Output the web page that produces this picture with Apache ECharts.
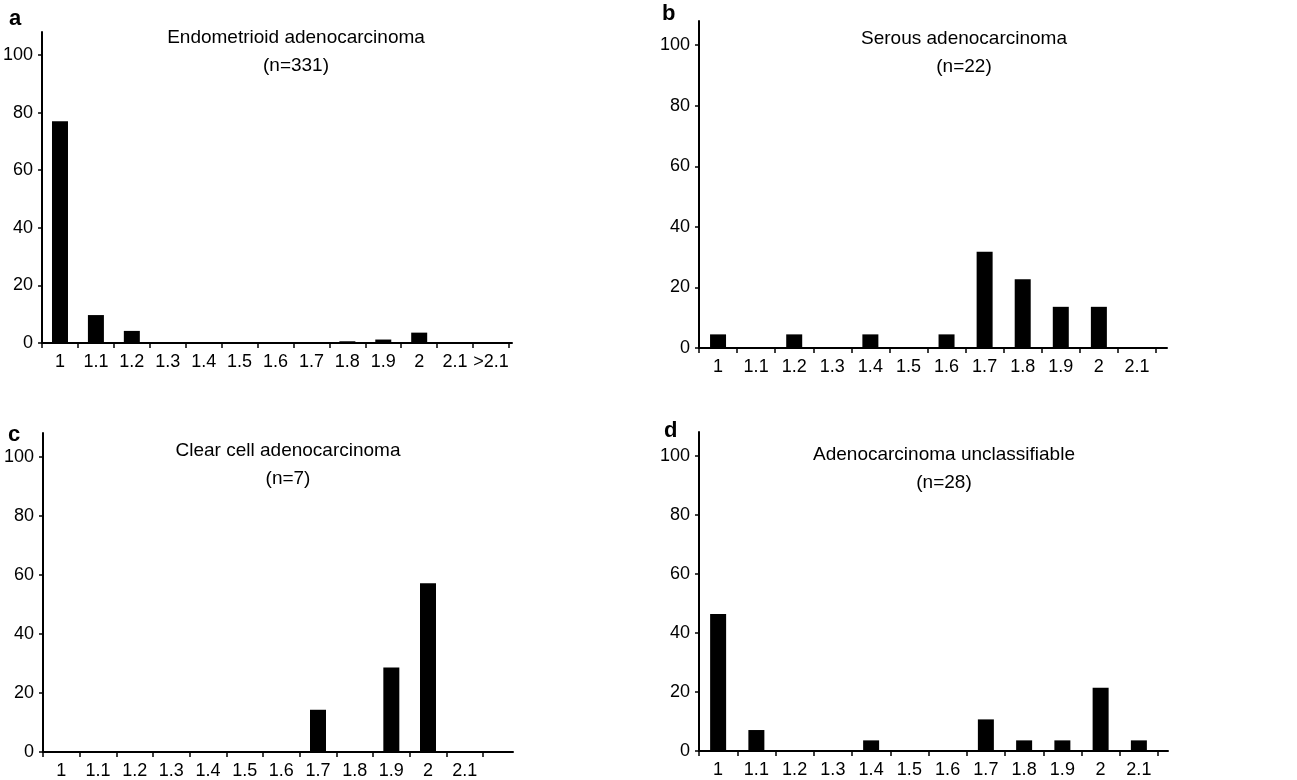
<!DOCTYPE html>
<html>
<head>
<meta charset="utf-8">
<script src="https://cdn.jsdelivr.net/npm/echarts@6/dist/echarts.min.js"></script>
<style>
html, body { margin: 0; padding: 0; background: #fff; }
#main { width: 1297px; height: 780px; }
</style>
</head>
<body>
<div id="main"></div>
<script>
// categories (ratio bins)
var catsA = ['1', '1.1', '1.2', '1.3', '1.4', '1.5', '1.6', '1.7', '1.8', '1.9', '2', '2.1', '>2.1'];
var catsB = ['1', '1.1', '1.2', '1.3', '1.4', '1.5', '1.6', '1.7', '1.8', '1.9', '2', '2.1'];
var catsC = ['1', '1.1', '1.2', '1.3', '1.4', '1.5', '1.6', '1.7', '1.8', '1.9', '2', '2.1'];
var catsD = ['1', '1.1', '1.2', '1.3', '1.4', '1.5', '1.6', '1.7', '1.8', '1.9', '2', '2.1'];

// percentages
var valsA = [77, 9.7, 4.2, 0.3, 0, 0.3, 0.3, 0.3, 0.6, 1.2, 3.6, 0.3, 0.3];
var valsB = [4.5, 0, 4.5, 0, 4.5, 0, 4.5, 31.8, 22.7, 13.6, 13.6, 0];
var valsC = [0, 0, 0, 0, 0, 0, 0, 14.3, 0, 28.6, 57.1, 0];
var valsD = [46.4, 7.1, 0, 0, 3.6, 0, 0, 10.7, 3.6, 3.6, 21.4, 3.6];

var yTicks = [0, 20, 40, 60, 80, 100];

var titles = [
  'Endometrioid adenocarcinoma\n(n=331)',
  'Serous adenocarcinoma\n(n=22)',
  'Clear cell adenocarcinoma\n(n=7)',
  'Adenocarcinoma unclassifiable\n(n=28)'
];
var letters = ['a', 'b', 'c', 'd'];

var chart = echarts.init(document.getElementById('main'));

var grids = [
  { left: 42, top: 32, width: 467, height: 311 },
  { left: 699, top: 21, width: 457, height: 327 },
  { left: 43, top: 433, width: 440, height: 319 },
  { left: 699, top: 432, width: 459, height: 319 }
];
// how far the x axis line runs past the last tick
var lineExtra = [3, 11, 30, 10];
var titlePos = [[296, 24], [964, 25], [288, 437], [944, 441]];
var letterPos = [[9, 8], [662, 3], [8, 424], [664, 420]];

var cats = [catsA, catsB, catsC, catsD];
var vals = [valsA, valsB, valsC, valsD];

var font = 'Liberation Sans, Arial, sans-serif';
var title = [], grid = [], xAxis = [], yAxis = [], series = [];

for (var i = 0; i < 4; i++) {
  var g = grids[i];
  grid.push(g);
  // second grid only to draw the longer x axis line
  grid.push({ left: g.left, top: g.top, width: g.width + lineExtra[i], height: g.height });

  title.push({
    text: titles[i],
    left: titlePos[i][0], top: titlePos[i][1],
    textAlign: 'center', padding: 0,
    textStyle: { fontFamily: font, fontSize: 19, fontWeight: 'normal', color: '#000', lineHeight: 28 }
  });
  title.push({
    text: letters[i],
    left: letterPos[i][0], top: letterPos[i][1], padding: 0,
    textStyle: { fontFamily: font, fontSize: 22, fontWeight: 'bold', color: '#000' }
  });

  xAxis.push({
    type: 'category', gridIndex: 2 * i, data: cats[i],
    boundaryGap: true,
    axisLine: { show: false },
    axisTick: { show: true, length: 5, lineStyle: { color: '#000', width: 1.5 } },
    axisLabel: { color: '#000', fontFamily: font, fontSize: 18, margin: 10, interval: 0 },
    splitLine: { show: false }
  });
  xAxis.push({
    type: 'value', gridIndex: 2 * i + 1, min: 0, max: 1,
    axisLine: { show: true, lineStyle: { color: '#000', width: 2 } },
    axisTick: { show: false }, axisLabel: { show: false }, splitLine: { show: false }
  });

  yAxis.push({
    type: 'value', gridIndex: 2 * i, min: 0, max: 108,
    axisLine: { show: true, lineStyle: { color: '#000', width: 2 } },
    axisTick: { show: true, length: 4, customValues: yTicks, lineStyle: { color: '#000', width: 1.5 } },
    axisLabel: { color: '#000', fontFamily: font, fontSize: 18, margin: 9, customValues: yTicks },
    splitLine: { show: false }
  });
  yAxis.push({
    type: 'value', gridIndex: 2 * i + 1, min: 0, max: 1, show: false
  });

  series.push({
    type: 'bar', xAxisIndex: 2 * i, yAxisIndex: 2 * i,
    data: vals[i], barWidth: 16,
    itemStyle: { color: '#000' },
    silent: true
  });
}

chart.setOption({
  backgroundColor: '#fff',
  animation: false,
  title: title,
  grid: grid,
  xAxis: xAxis,
  yAxis: yAxis,
  series: series
});
</script>
</body>
</html>
